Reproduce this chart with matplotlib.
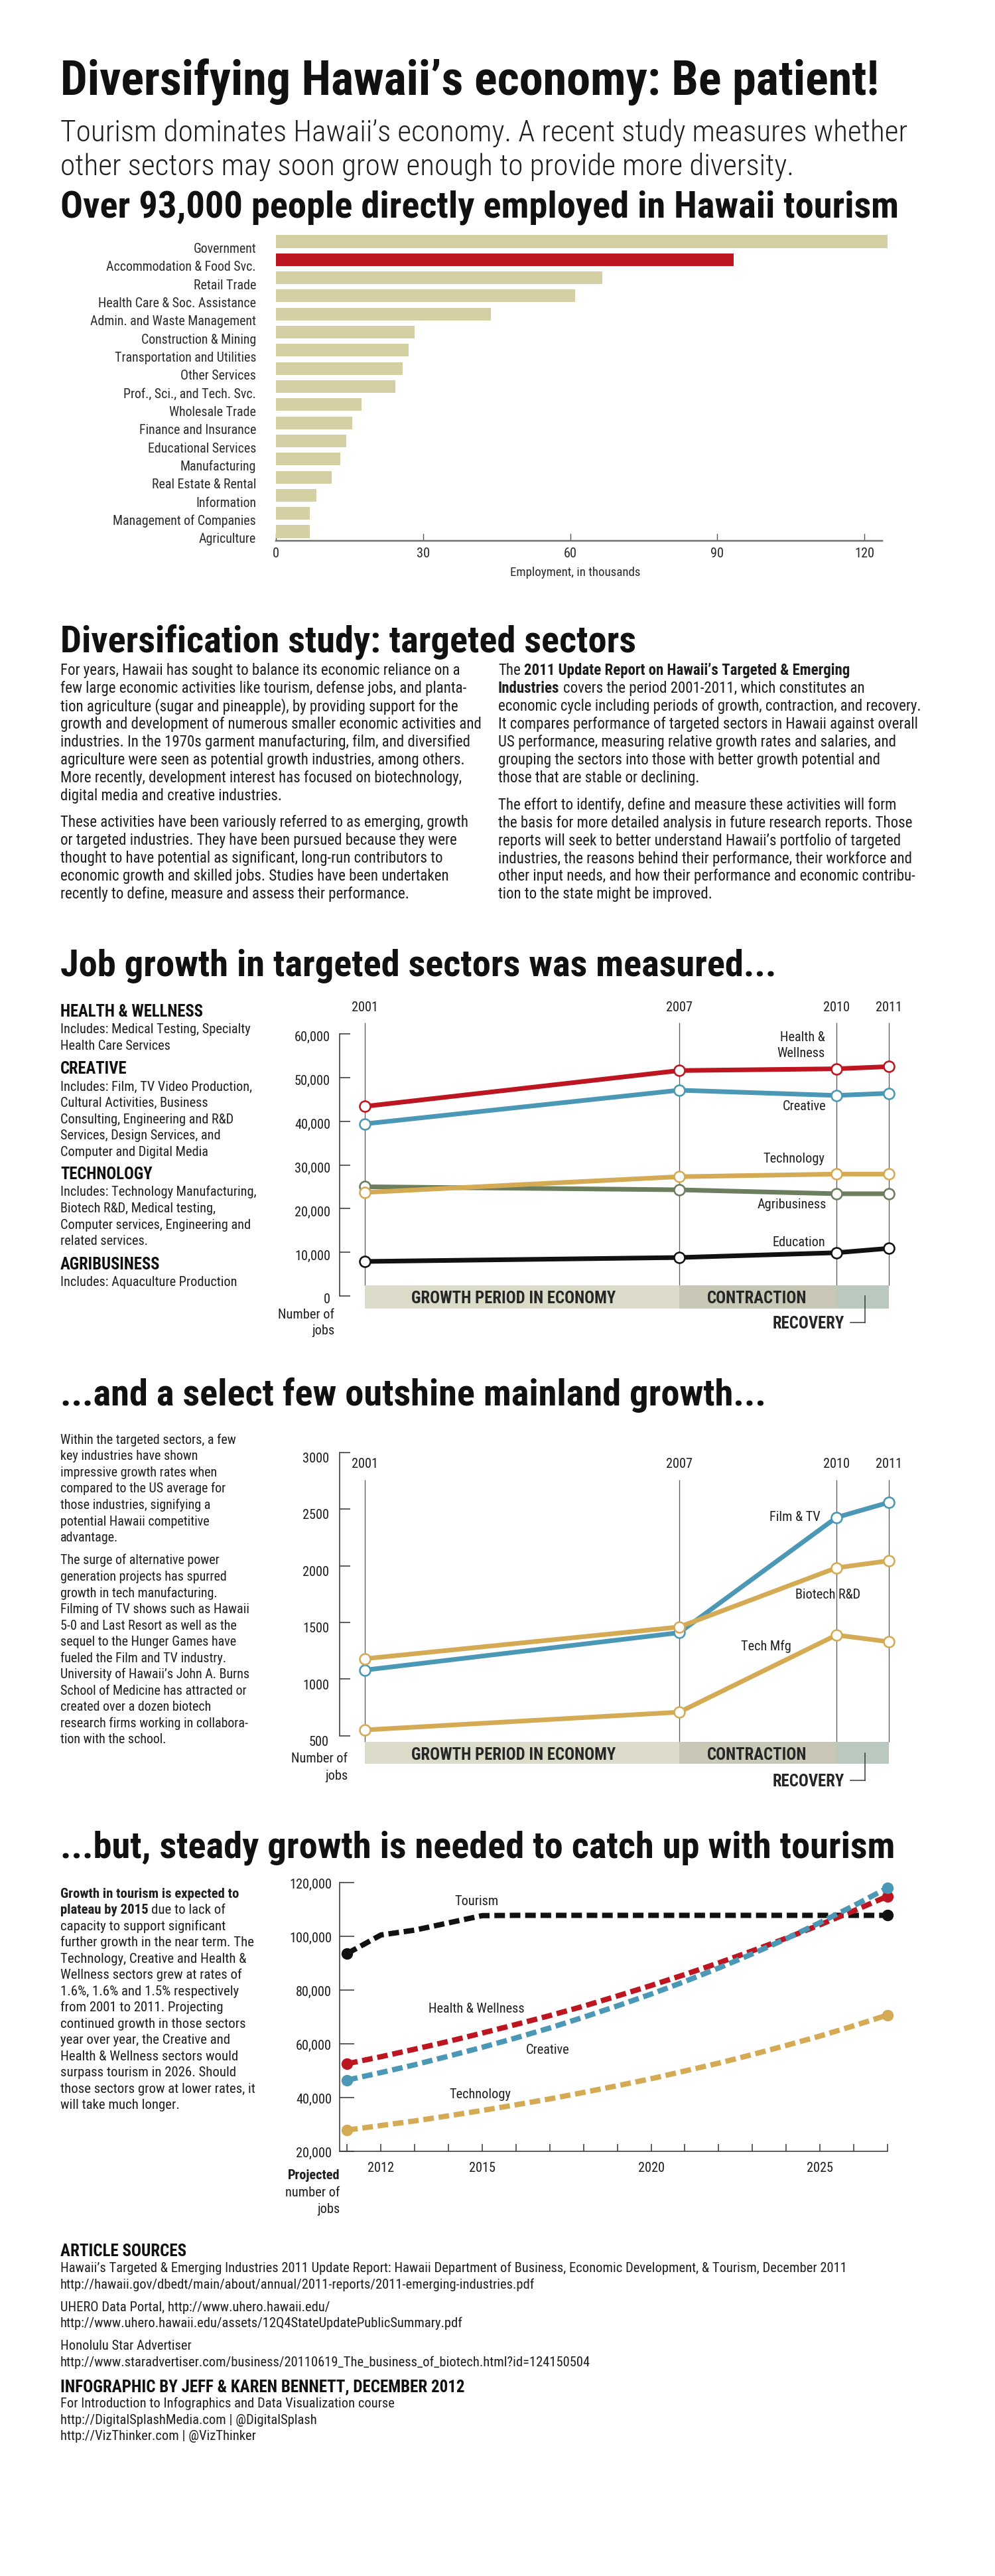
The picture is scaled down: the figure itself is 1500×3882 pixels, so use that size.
import os
import matplotlib
matplotlib.use("Agg")
import matplotlib.pyplot as plt
from matplotlib import font_manager as fm
from matplotlib.font_manager import FontProperties
from matplotlib.patches import Rectangle
from matplotlib.lines import Line2D
from matplotlib import transforms

# ------------------------------------------------------------------ data
bar_categories = ["Government", "Accommodation & Food Svc.", "Retail Trade",
                  "Health Care & Soc. Assistance", "Admin. and Waste Management",
                  "Construction & Mining", "Transportation and Utilities",
                  "Other Services", "Prof., Sci., and Tech. Svc.", "Wholesale Trade",
                  "Finance and Insurance", "Educational Services", "Manufacturing",
                  "Real Estate & Rental", "Information", "Management of Companies",
                  "Agriculture"]
bar_values = [124.8, 93.4, 66.6, 61.0, 43.8, 28.3, 27.0, 25.8, 24.3, 17.4,
              15.6, 14.4, 13.1, 11.4, 8.2, 6.9, 6.9]
bar_highlight = "Accommodation & Food Svc."
bar_ticks = [0, 30, 60, 90, 120]

period_years = [2001, 2007, 2010, 2011]
period_labels = ["GROWTH PERIOD IN ECONOMY", "CONTRACTION", "RECOVERY"]

health_jobs = [43400, 51600, 52000, 52500]
creative_jobs = [39400, 47100, 45900, 46400]
technology_jobs = [23700, 27300, 27900, 27900]
agribusiness_jobs = [25000, 24300, 23400, 23400]
education_jobs = [7900, 8800, 9900, 10900]
jobs_ticks = [0, 10000, 20000, 30000, 40000, 50000, 60000]

film_tv_jobs = [1080, 1410, 2426, 2559]
biotech_jobs = [1180, 1460, 1982, 2044]
tech_mfg_jobs = [552, 709, 1389, 1330]
standout_ticks = [500, 1000, 1500, 2000, 2500, 3000]

proj_years = [2011, 2012, 2013, 2014, 2015, 2016, 2017, 2018, 2019,
              2020, 2021, 2022, 2023, 2024, 2025, 2026, 2027]
tourism_proj = [93600, 100500, 102300, 105000, 107700, 107800, 107800, 107800, 107800,
                107800, 107800, 107800, 107800, 107800, 107800, 107800, 107800]
health_proj = [52600, 55200, 58000, 60900, 64000, 67200, 70500, 74000, 77800,
               81700, 85800, 90100, 94600, 99300, 104300, 109500, 114900]
creative_proj = [46500, 49300, 52200, 55400, 58700, 62200, 65900, 69900, 74100,
                 78500, 83200, 88200, 93500, 99100, 105100, 111400, 118000]
technology_proj = [27900, 29600, 31300, 33200, 35200, 37300, 39500, 41900, 44400,
                   47000, 49900, 52800, 56000, 59400, 62900, 66700, 70700]
proj_ticks = [20000, 40000, 60000, 80000, 100000, 120000]
proj_year_labels = [2012, 2015, 2020, 2025]

# ------------------------------------------------------------------ style
RED, BLUE, TAN, GREEN, BLACK = "#bd1620", "#4b97b6", "#d5aa54", "#6b7e5e", "#111111"
BAR = "#d5d0a3"
BANDS = ["#dcdbca", "#c9c7b6", "#b9c9c0"]
GRID = "#5a5a5a"
TXT = "#1e1e1e"
AXC = "#3a3a3a"

W, H, DPI = 1500, 3882, 100
PT = 72.0 / DPI
fig = plt.figure(figsize=(W / DPI, H / DPI), dpi=DPI)
fig.patch.set_facecolor("white")
R = fig.canvas.get_renderer()


def fx(px):
    return px / W


def fy(py):
    return 1 - py / H


_lut = {}
for _f in fm.fontManager.ttflist:
    _lut.setdefault(os.path.basename(_f.fname).lower(), _f.fname)


def font(files, **fallback):
    for n in files:
        p = _lut.get(n.lower())
        if p:
            return FontProperties(fname=p)
    return FontProperties(family="DejaVu Sans", stretch="condensed", **fallback)


BOLD_LIST = ["RobotoCondensed-Bold.ttf", "LiberationSansNarrow-Bold.ttf",
             "NotoSans-CondensedBold.ttf", "OpenSans-CondensedBold.ttf",
             "DejaVuSansCondensed-Bold.ttf"]
REG = font(["RobotoCondensed-Regular.ttf", "LiberationSansNarrow-Regular.ttf",
            "NotoSans-Condensed.ttf", "NotoSans-CondensedRegular.ttf",
            "OpenSans-CondensedRegular.ttf", "DejaVuSansCondensed.ttf"])
BOLD = font(BOLD_LIST, weight="bold")
SEMI = font(["RobotoCondensed-SemiBold.ttf", "NotoSans-CondensedSemiBold.ttf"] + BOLD_LIST,
            weight="bold")
HEAVY = font(["RobotoCondensed-ExtraBold.ttf", "RobotoCondensed-Black.ttf",
              "NotoSans-CondensedExtraBold.ttf", "NotoSans-CondensedBlack.ttf"] + BOLD_LIST,
             weight="heavy")
LIGHT = font(["RobotoCondensed-Light.ttf", "NotoSans-CondensedLight.ttf",
              "OpenSans-CondensedLight.ttf", "Lato-Light.ttf", "Roboto-Light.ttf",
              "OpenSans-Light.ttf"], weight="light")


def sized(fp, px):
    f = fp.copy()
    f.set_size(px * PT)
    return f


def measure(s, fp, px):
    t = fig.text(0, 0, s, fontproperties=sized(fp, px))
    w = t.get_window_extent(R).width
    t.remove()
    return w


def fit(s, fp, target, guess=20.0):
    return guess * target / measure(s, fp, guess)


def put(x, yc, s, fp, px, ha="left", color=TXT):
    return fig.text(fx(x), fy(yc + 0.36 * px), s, fontproperties=sized(fp, px),
                    ha=ha, va="baseline", color=color)


def put_rich(x, yc, segments, px, color=TXT):
    space = measure("x x", REG, px) - measure("xx", REG, px)
    for s, fp in segments:
        put(x, yc, s, fp, px, color=color)
        x += measure(s, fp, px) + space


def hline(x0, x1, y, color=TXT, lw=1.5):
    fig.add_artist(Line2D([fx(x0), fx(x1)], [fy(y), fy(y)], color=color, lw=lw * PT))


def vline(x, y0, y1, color=TXT, lw=1.5):
    fig.add_artist(Line2D([fx(x), fx(x)], [fy(y0), fy(y1)], color=color, lw=lw * PT))


def calib_axes(box, xcal, ycal):
    x0, y0, x1, y1 = box
    ax = fig.add_axes([fx(x0), fy(y1), (x1 - x0) / W, (y1 - y0) / H])
    (p1, v1), (p2, v2) = xcal
    s = (v2 - v1) / (p2 - p1)
    ax.set_xlim(v1 + (x0 - p1) * s, v1 + (x1 - p1) * s)
    (q1, w1), (q2, w2) = ycal
    t = (w2 - w1) / (q2 - q1)
    ax.set_ylim(w1 + (y1 - q1) * t, w1 + (y0 - q1) * t)
    ax.patch.set_alpha(0)
    return ax


# ------------------------------------------------------------------ sizes
title = "Diversifying Hawaii\u2019s economy: Be patient!"
sub1 = "Tourism dominates Hawaii\u2019s economy. A recent study measures whether"
sub2 = "other sectors may soon grow enough to provide more diversity."
headers = [("Over 93,000 people directly employed in Hawaii tourism", 307),
           ("Diversification study: targeted sectors", 962),
           ("Job growth in targeted sectors was measured...", 1451),
           ("...and a select few outshine mainland growth...", 2098),
           ("...but, steady growth is needed to catch up with tourism", 2779)]

title_px = fit(title, HEAVY, 1234)
sub_px = fit(sub1, LIGHT, 1277)
hdr_px = fit(headers[0][0], SEMI, 1264)
body_px = fit("growth and development of numerous smaller economic activities and", REG, 632)
cl_px = fit("Health & Wellness", REG, 144)
barlab_px = fit("Health Care & Soc. Assistance", REG, 238)
band_px = fit(period_labels[0], BOLD, 308)

put(91, 117, title, HEAVY, title_px, color="#111111")
put(91, 197, sub1, LIGHT, sub_px)
put(91, 248, sub2, LIGHT, sub_px)
for s, y in headers:
    put(91, y, s, SEMI, hdr_px, color="#111111")

# ------------------------------------------------------------------ bar chart
axb = calib_axes((416, 350, 1330, 815), ((416, 0), (1303, 120)), ((364, 0), (801, 16)))
colors = [RED if c == bar_highlight else BAR for c in bar_categories]
axb.barh(range(len(bar_values)), bar_values, height=0.70, color=colors,
         edgecolor="none", clip_on=False, zorder=2)
for s in ["top", "right", "left"]:
    axb.spines[s].set_visible(False)
axb.spines["bottom"].set_color("#6e6e6e")
axb.spines["bottom"].set_linewidth(2.5 * PT)
axb.set_yticks([])
axb.set_xticks(bar_ticks)
axb.tick_params(axis="x", direction="in", length=11 * PT, width=1.4 * PT,
                color="#555555", labelbottom=False)
trb = transforms.blended_transform_factory(fig.transFigure, axb.transData) + \
    transforms.ScaledTranslation(0, -(10 + 0.36 * barlab_px) / DPI, fig.dpi_scale_trans)
for i, c in enumerate(bar_categories):
    axb.text(fx(386), i, c, transform=trb, ha="right", va="baseline",
             fontproperties=sized(REG, barlab_px), color="#2a2a2a")
trbx = transforms.blended_transform_factory(axb.transData, fig.transFigure)
for v in bar_ticks:
    axb.text(v, fy(833 + 0.36 * cl_px), str(v), transform=trbx, ha="center",
             va="baseline", fontproperties=sized(REG, cl_px), color="#2a2a2a")
put(867, 861, "Employment, in thousands", REG, barlab_px * 0.95, ha="center", color="#2a2a2a")

# ------------------------------------------------------------------ section 2 text
left_p1 = ["For years, Hawaii has sought to balance its economic reliance on a",
           "few large economic activities like tourism, defense jobs, and planta-",
           "tion agriculture (sugar and pineapple), by providing support for the",
           "growth and development of numerous smaller economic activities and",
           "industries. In the 1970s garment manufacturing, film, and diversified",
           "agriculture were seen as potential growth industries, among others.",
           "More recently, development interest has focused on biotechnology,",
           "digital media and creative industries."]
left_p2 = ["These activities have been variously referred to as emerging, growth",
           "or targeted industries. They have been pursued because they were",
           "thought to have potential as significant, long-run contributors to",
           "economic growth and skilled jobs. Studies have been undertaken",
           "recently to define, measure and assess their performance."]
right_p1 = ["economic cycle including periods of growth, contraction, and recovery.",
            "It compares performance of targeted sectors in Hawaii against overall",
            "US performance, measuring relative growth rates and salaries, and",
            "grouping the sectors into those with better growth potential and",
            "those that are stable or declining."]
right_p2 = ["The effort to identify, define and measure these activities will form",
            "the basis for more detailed analysis in future research reports. Those",
            "reports will seek to better understand Hawaii\u2019s portfolio of targeted",
            "industries, the reasons behind their performance, their workforce and",
            "other input needs, and how their performance and economic contribu-",
            "tion to the state might be improved."]
for i, s in enumerate(left_p1):
    put(91, 1009 + 27.0 * i, s, REG, body_px)
for i, s in enumerate(left_p2):
    put(91, 1238 + 27.0 * i, s, REG, body_px)
put_rich(751, 1009, [("The", REG), ("2011 Update Report on Hawaii\u2019s Targeted & Emerging", BOLD)], body_px)
put_rich(751, 1036, [("Industries", BOLD), ("covers the period 2001-2011, which constitutes an", REG)], body_px)
for i, s in enumerate(right_p1):
    put(751, 1063 + 27.0 * i, s, REG, body_px)
for i, s in enumerate(right_p2):
    put(751, 1212 + 26.8 * i, s, REG, body_px)


# ------------------------------------------------------------------ helpers for line charts
def left_axis(ax, ticks, lo, hi, fmt, label_right, dy, tick_len):
    for s in ["top", "right", "bottom"]:
        ax.spines[s].set_visible(False)
    ax.spines["left"].set_bounds(lo, hi)
    ax.spines["left"].set_color(AXC)
    ax.spines["left"].set_linewidth(1.6 * PT)
    ax.set_yticks(ticks)
    ax.tick_params(axis="y", direction="in", length=tick_len * PT, width=1.6 * PT,
                   color=AXC, labelleft=False)
    ax.set_xticks([])
    tr = transforms.blended_transform_factory(fig.transFigure, ax.transData) + \
        transforms.ScaledTranslation(0, -(dy + 0.36 * cl_px) / DPI, fig.dpi_scale_trans)
    for v in ticks:
        ax.text(fx(label_right), v, fmt(v), transform=tr, ha="right", va="baseline",
                fontproperties=sized(REG, cl_px), color=TXT)


def periods(ax, years_top, line_top, band_top, band_bot, band_text_y, recovery_y):
    bl = transforms.blended_transform_factory(ax.transData, fig.transFigure)
    ax.vlines(period_years, fy(band_top), fy(line_top), transform=bl, colors=GRID,
              lw=1.3 * PT, zorder=1)
    for i in range(3):
        ax.add_patch(Rectangle((period_years[i], fy(band_bot)),
                               period_years[i + 1] - period_years[i],
                               fy(band_top) - fy(band_bot), transform=bl,
                               facecolor=BANDS[i], edgecolor="none", zorder=2, clip_on=False))
    for yv in period_years:
        ax.text(yv, fy(years_top + 0.36 * cl_px), str(yv), transform=bl, ha="center",
                va="baseline", fontproperties=sized(REG, cl_px), color=TXT)
    put(774, band_text_y, period_labels[0], BOLD, band_px, ha="center", color="#262626")
    put(1141, band_text_y, period_labels[1], BOLD, band_px, ha="center", color="#262626")
    put(1273, recovery_y, period_labels[2], BOLD, band_px, ha="right", color="#262626")
    hline(1282, 1304, recovery_y, color="#333333")
    vline(1304, band_text_y - 2, recovery_y, color="#333333")


def series(ax, xs, ys, color):
    ax.plot(xs, ys, color=color, lw=7 * PT, solid_capstyle="round", marker="o",
            ms=16 * PT, mfc="white", mec=color, mew=2.6 * PT, zorder=4, clip_on=False)


def comma(v):
    return "{:,}".format(int(v))


# ------------------------------------------------------------------ chart 1
ax1 = calib_axes((512, 1490, 1420, 2010), ((550, 2001), (1340, 2011)), ((1953, 0), (1558, 60000)))
left_axis(ax1, jobs_ticks, 0, 60000, comma, 498, 4, 16)
periods(ax1, 1517, 1541, 1937, 1972, 1955, 1993)
series(ax1, period_years, agribusiness_jobs, GREEN)
series(ax1, period_years, technology_jobs, TAN)
series(ax1, period_years, creative_jobs, BLUE)
series(ax1, period_years, health_jobs, RED)
series(ax1, period_years, education_jobs, BLACK)
put(1244, 1562, "Health &", REG, cl_px, ha="right")
put(1244, 1586, "Wellness", REG, cl_px, ha="right")
put(1245, 1666, "Creative", REG, cl_px, ha="right")
put(1243, 1745, "Technology", REG, cl_px, ha="right")
put(1246, 1814, "Agribusiness", REG, cl_px, ha="right")
put(1244, 1871, "Education", REG, cl_px, ha="right")
put(504, 1980, "Number of", REG, cl_px, ha="right")
put(504, 2004, "jobs", REG, cl_px, ha="right")

side_px = fit("Includes: Technology Manufacturing,", REG, 293)
cap_px = fit("HEALTH & WELLNESS", BOLD, 216)
side_blocks = [("HEALTH & WELLNESS", 1523.4, ["Includes: Medical Testing, Specialty",
                                             "Health Care Services"]),
               ("CREATIVE", 1609.5, ["Includes: Film, TV Video Production,",
                                     "Cultural Activities, Business",
                                     "Consulting, Engineering and R&D",
                                     "Services, Design Services, and",
                                     "Computer and Digital Media"]),
               ("TECHNOLOGY", 1768.4, ["Includes: Technology Manufacturing,",
                                       "Biotech R&D, Medical testing,",
                                       "Computer services, Engineering and",
                                       "related services."]),
               ("AGRIBUSINESS", 1903.8, ["Includes: Aquaculture Production"])]
for head, y, lines in side_blocks:
    put(91, y, head, BOLD, cap_px, color="#111111")
    for i, s in enumerate(lines):
        put(91, y + 26.8 + 24.6 * i, s, REG, side_px)

# ------------------------------------------------------------------ chart 2
ax2 = calib_axes((512, 2150, 1420, 2700), ((550, 2001), (1340, 2011)), ((2615.9, 500), (2188.7, 3000)))
left_axis(ax2, standout_ticks, 500, 3000, lambda v: str(int(v)), 496, 8, 16)
periods(ax2, 2205, 2230, 2625, 2658, 2643.5, 2683)
series(ax2, period_years, tech_mfg_jobs, TAN)
series(ax2, period_years, film_tv_jobs, BLUE)
series(ax2, period_years, biotech_jobs, TAN)
put(1237, 2285, "Film & TV", REG, cl_px, ha="right")
put(1199, 2402, "Biotech R&D", REG, cl_px)
put(1193, 2480, "Tech Mfg", REG, cl_px, ha="right")
put(524, 2649, "Number of", REG, cl_px, ha="right")
put(524, 2675, "jobs", REG, cl_px, ha="right")

c2_p1 = ["Within the targeted sectors, a few", "key industries have shown",
         "impressive growth rates when", "compared to the US average for",
         "those industries, signifying a", "potential Hawaii competitive", "advantage."]
c2_p2 = ["The surge of alternative power", "generation projects has spurred",
         "growth in tech manufacturing.", "Filming of TV shows such as Hawaii",
         "5-0 and Last Resort as well as the", "sequel to the Hunger Games have",
         "fueled the Film and TV industry.", "University of Hawaii\u2019s John A. Burns",
         "School of Medicine has attracted or", "created over a dozen biotech",
         "research firms working in collabora-", "tion with the school."]
c2_px = fit("Filming of TV shows such as Hawaii", REG, 285)
for i, s in enumerate(c2_p1):
    put(91, 2168.6 + 24.55 * i, s, REG, c2_px)
for i, s in enumerate(c2_p2):
    put(91, 2350.2 + 24.55 * i, s, REG, c2_px)

# ------------------------------------------------------------------ chart 3
ax3 = calib_axes((512, 2800, 1360, 3242), ((523.3, 2011), (1338, 2027)), ((3242, 20000), (2837, 120000)))
left_axis(ax3, proj_ticks, 20000, 120000, comma, 500, 2, 22)
ax3.spines["bottom"].set_visible(True)
ax3.spines["bottom"].set_bounds(ax3.get_xlim()[0], proj_years[-1])
ax3.spines["bottom"].set_color(AXC)
ax3.spines["bottom"].set_linewidth(1.6 * PT)
ax3.set_xticks(proj_years)
ax3.tick_params(axis="x", direction="in", length=11 * PT, width=1.6 * PT, color=AXC,
                labelbottom=False)
bl3 = transforms.blended_transform_factory(ax3.transData, fig.transFigure)
for yv in proj_year_labels:
    ax3.text(yv, fy(3266 + 0.36 * cl_px), str(yv), transform=bl3, ha="center",
             va="baseline", fontproperties=sized(REG, cl_px), color=TXT)
for ys, col in [(tourism_proj, BLACK), (technology_proj, TAN),
                (health_proj, RED), (creative_proj, BLUE)]:
    ax3.plot(proj_years, ys, color=col, lw=8 * PT, ls=(0, (2.0, 0.9)),
             dash_capstyle="butt", marker="o", markevery=[0, len(ys) - 1],
             ms=16 * PT, mfc=col, mec=col, zorder=4, clip_on=False)
put(719, 2864, "Tourism", REG, cl_px, ha="center")
put(718, 3026, "Health & Wellness", REG, cl_px, ha="center")
put(826, 3088, "Creative", REG, cl_px, ha="center")
put(724, 3155, "Technology", REG, cl_px, ha="center")
put(512, 3277, "Projected", BOLD, cl_px, ha="right")
put(512, 3303, "number of", REG, cl_px, ha="right")
put(512, 3328, "jobs", REG, cl_px, ha="right")

c3_lines = ["capacity to support significant", "further growth in the near term. The",
            "Technology, Creative and Health &", "Wellness sectors grew at rates of",
            "1.6%, 1.6% and 1.5% respectively", "from 2001 to 2011. Projecting",
            "continued growth in those sectors", "year over year, the Creative and",
            "Health & Wellness sectors would", "surpass tourism in 2026. Should",
            "those sectors grow at lower rates, it", "will take much longer."]
c3_px = fit("further growth in the near term. The", REG, 291)
put(91, 2852.2, "Growth in tourism is expected to", BOLD, c3_px)
put_rich(91, 2876.7, [("plateau by 2015", BOLD), ("due to lack of", REG)], c3_px)
for i, s in enumerate(c3_lines):
    put(91, 2901.2 + 24.5 * i, s, REG, c3_px)

# ------------------------------------------------------------------ sources
src_px = fit("Hawaii\u2019s Targeted & Emerging Industries 2011 Update Report: Hawaii Department of "
             "Business, Economic Development, & Tourism, December 2011", REG, 1185)
srcb_px = fit("INFOGRAPHIC BY JEFF & KAREN BENNETT, DECEMBER 2012", BOLD, 608)
put(91, 3391, "ARTICLE SOURCES", BOLD, srcb_px, color="#111111")
src_lines = [("Hawaii\u2019s Targeted & Emerging Industries 2011 Update Report: Hawaii Department of "
              "Business, Economic Development, & Tourism, December 2011", 3417),
             ("http://hawaii.gov/dbedt/main/about/annual/2011-reports/2011-emerging-industries.pdf", 3442),
             ("UHERO Data Portal, http://www.uhero.hawaii.edu/", 3476),
             ("http://www.uhero.hawaii.edu/assets/12Q4StateUpdatePublicSummary.pdf", 3500),
             ("Honolulu Star Advertiser", 3534),
             ("http://www.staradvertiser.com/business/20110619_The_business_of_biotech.html?id=124150504", 3559),
             ("For Introduction to Infographics and Data Visualization course", 3621),
             ("http://DigitalSplashMedia.com | @DigitalSplash", 3646),
             ("http://VizThinker.com | @VizThinker", 3670)]
for s, y in src_lines:
    put(91, y, s, REG, src_px)
put(91, 3595, "INFOGRAPHIC BY JEFF & KAREN BENNETT, DECEMBER 2012", BOLD, srcb_px, color="#111111")

fig.savefig("out.png", dpi=DPI, facecolor="white")
